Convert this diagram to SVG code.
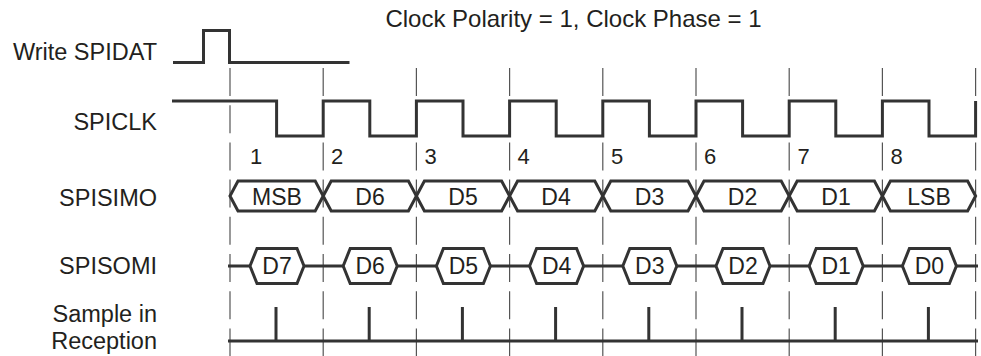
<svg xmlns="http://www.w3.org/2000/svg" width="981" height="356" viewBox="0 0 981 356">
<style>
text{font-family:"Liberation Sans",Arial,sans-serif;fill:#231f20}
.lbl{font-size:23.5px;text-anchor:end}
.ttl{font-size:24px;text-anchor:middle}
.num{font-size:22px}
.bus{font-size:23px;text-anchor:middle}
.sig{fill:none;stroke:#333;stroke-width:3;stroke-linejoin:miter;stroke-linecap:butt}
.hex{fill:#fff;stroke:#333;stroke-width:3;stroke-linejoin:miter}
.grid{stroke:#555;stroke-width:1.2;stroke-dasharray:28 9.2}
</style>
<rect width="981" height="356" fill="#fff"/>
<text class="ttl" x="573.5" y="27">Clock Polarity = 1, Clock Phase = 1</text>

<g id="grid-lines">
<line class="grid" x1="230" y1="68" x2="230" y2="356"/>
<line class="grid" x1="323.2" y1="68" x2="323.2" y2="356"/>
<line class="grid" x1="416.4" y1="68" x2="416.4" y2="356"/>
<line class="grid" x1="509.6" y1="68" x2="509.6" y2="356"/>
<line class="grid" x1="602.8" y1="68" x2="602.8" y2="356"/>
<line class="grid" x1="696" y1="68" x2="696" y2="356"/>
<line class="grid" x1="789.2" y1="68" x2="789.2" y2="356"/>
<line class="grid" x1="882.4" y1="68" x2="882.4" y2="356"/>
<line class="grid" x1="975.6" y1="68" x2="975.6" y2="356"/>
</g>

<g id="write-spidat">
<text class="lbl" x="157" y="59.5">Write SPIDAT</text>
<path class="sig" d="M173,62.5 H203.5 V30.5 H229.5 V62.5 H349.5"/>
</g>

<g id="spiclk">
<text class="lbl" x="157" y="129.5">SPICLK</text>
<path class="sig" d="M172,101 H276.6 V136 H323.2 V101 H369.8 V136 H416.4 V101 H463 V136 H509.6 V101 H556.2 V136 H602.8 V101 H649.4 V136 H696 V101 H742.6 V136 H789.2 V101 H835.8 V136 H882.4 V101 H929 V136 H975.6 V101"/>
</g>

<g id="bit-numbers">
<text class="num" x="250" y="164">1</text>
<text class="num" x="331" y="164">2</text>
<text class="num" x="424.5" y="164">3</text>
<text class="num" x="517.5" y="164">4</text>
<text class="num" x="611" y="164">5</text>
<text class="num" x="704" y="164">6</text>
<text class="num" x="797.5" y="164">7</text>
<text class="num" x="890.5" y="164">8</text>
</g>

<g id="spisimo">
<text class="lbl" x="157" y="206">SPISIMO</text>
<polygon class="hex" points="230,196 238,181 315.2,181 323.2,196 315.2,211 238,211"/>
<polygon class="hex" points="323.2,196 331.2,181 408.4,181 416.4,196 408.4,211 331.2,211"/>
<polygon class="hex" points="416.4,196 424.4,181 501.6,181 509.6,196 501.6,211 424.4,211"/>
<polygon class="hex" points="509.6,196 517.6,181 594.8,181 602.8,196 594.8,211 517.6,211"/>
<polygon class="hex" points="602.8,196 610.8,181 688,181 696,196 688,211 610.8,211"/>
<polygon class="hex" points="696,196 704,181 781.2,181 789.2,196 781.2,211 704,211"/>
<polygon class="hex" points="789.2,196 797.2,181 874.4,181 882.4,196 874.4,211 797.2,211"/>
<polygon class="hex" points="882.4,196 890.4,181 967.6,181 975.6,196 967.6,211 890.4,211"/>
<text class="bus" x="277" y="204.5">MSB</text>
<text class="bus" x="370" y="204.5">D6</text>
<text class="bus" x="463" y="204.5">D5</text>
<text class="bus" x="556" y="204.5">D4</text>
<text class="bus" x="649.5" y="204.5">D3</text>
<text class="bus" x="742.5" y="204.5">D2</text>
<text class="bus" x="836" y="204.5">D1</text>
<text class="bus" x="929" y="204.5">LSB</text>
</g>

<g id="spisomi">
<text class="lbl" x="157" y="274">SPISOMI</text>
<path class="sig" d="M228,266 H250 M304,266 H343.2 M397.2,266 H436.4 M490.4,266 H529.6 M583.6,266 H622.8 M676.8,266 H716 M770,266 H809.2 M863.2,266 H902.4 M956.4,266 H978"/>
<polygon class="hex" points="250,266 257,248.5 297,248.5 304,266 297,283.5 257,283.5"/>
<polygon class="hex" points="343.2,266 350.2,248.5 390.2,248.5 397.2,266 390.2,283.5 350.2,283.5"/>
<polygon class="hex" points="436.4,266 443.4,248.5 483.4,248.5 490.4,266 483.4,283.5 443.4,283.5"/>
<polygon class="hex" points="529.6,266 536.6,248.5 576.6,248.5 583.6,266 576.6,283.5 536.6,283.5"/>
<polygon class="hex" points="622.8,266 629.8,248.5 669.8,248.5 676.8,266 669.8,283.5 629.8,283.5"/>
<polygon class="hex" points="716,266 723,248.5 763,248.5 770,266 763,283.5 723,283.5"/>
<polygon class="hex" points="809.2,266 816.2,248.5 856.2,248.5 863.2,266 856.2,283.5 816.2,283.5"/>
<polygon class="hex" points="902.4,266 909.4,248.5 949.4,248.5 956.4,266 949.4,283.5 909.4,283.5"/>
<text class="bus" x="277" y="274">D7</text>
<text class="bus" x="370.2" y="274">D6</text>
<text class="bus" x="463.4" y="274">D5</text>
<text class="bus" x="556.6" y="274">D4</text>
<text class="bus" x="649.8" y="274">D3</text>
<text class="bus" x="743" y="274">D2</text>
<text class="bus" x="836.2" y="274">D1</text>
<text class="bus" x="929.4" y="274">D0</text>
</g>

<g id="sample-in-reception">
<text class="lbl" x="157" y="321.5">Sample in</text>
<text class="lbl" x="157" y="348.5">Reception</text>
<path class="sig" d="M228,341 H978 M276,341 V307 M369.2,341 V307 M462.4,341 V307 M555.6,341 V307 M648.8,341 V307 M742,341 V307 M835.2,341 V307 M928.4,341 V307"/>
</g>
</svg>
